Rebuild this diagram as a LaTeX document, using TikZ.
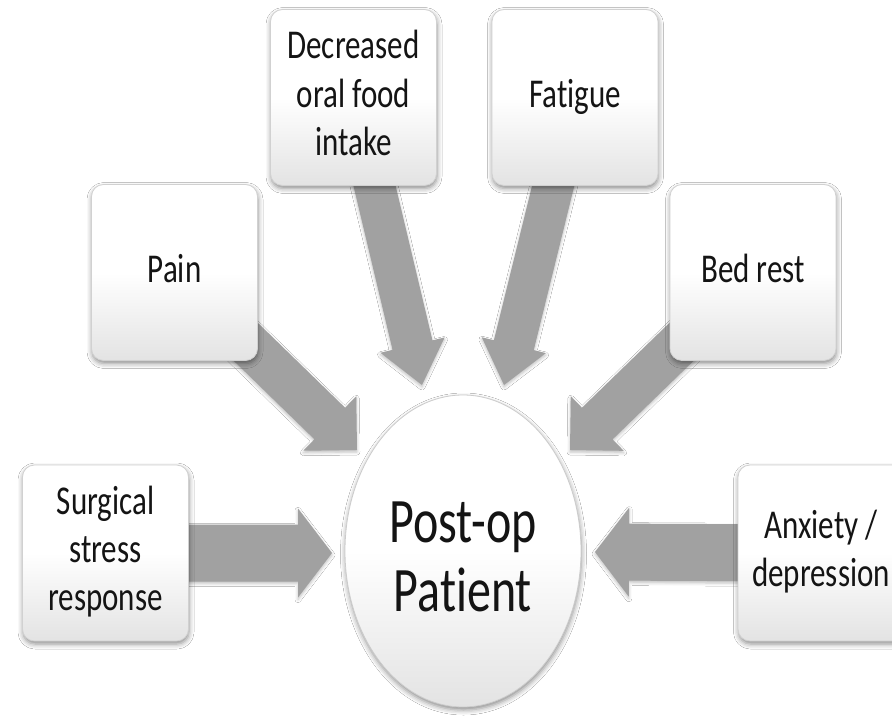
\documentclass[tikz,border=0pt]{standalone}
\usepackage{fontspec}
\setmainfont[Ligatures=NoCommon]{Carlito}
\usetikzlibrary{calc,shadows,shadows.blur,shapes.geometric}
\newcommand\boxfont{\fontsize{31}{36.5}\selectfont}
\newcommand\ptfont{\fontsize{48}{53}\selectfont}
\newcommand\sttext[1]{\scalebox{1}[1.32]{\begin{tabular}{@{}c@{}}#1\end{tabular}}}
\newcommand\blockarr[5]{% #1 start, #2 tip, #3 shaft half, #4 head half, #5 head length
  \coordinate (ahb) at ($(#2)!#5!(#1)$);
  \fill[arrowfill] ($(#1)!#3!90:(#2)$) -- ($(ahb)!#3!90:(#2)$) -- ($(ahb)!#4!90:(#2)$)
    -- (#2) -- ($(ahb)!#4!-90:(#2)$) -- ($(ahb)!#3!-90:(#2)$) -- ($(#1)!#3!-90:(#2)$) -- cycle;
}
\tikzset{
  factor/.style={draw=black!18, line width=0.8pt, rounded corners=12pt,
    minimum width=166pt, minimum height=176pt, inner sep=0pt,
    top color=white, bottom color=black!11, middle color=white,
    blur shadow={shadow xshift=0.5pt, shadow yshift=-3pt, shadow blur radius=5pt, shadow opacity=45},
    font=\boxfont, text=black!92},
  patient/.style={ellipse, draw=black!20, line width=0.8pt,
    minimum width=236pt, minimum height=312pt, inner sep=0pt,
    top color=white, bottom color=black!11, middle color=white,
    blur shadow={shadow xshift=0.5pt, shadow yshift=-3pt, shadow blur radius=5pt, shadow opacity=45}},
  ptext/.style={inner sep=0pt, font=\ptfont, text=black!92},
  arrowfill/.style={fill=black!37,
    blur shadow={shadow xshift=0pt, shadow yshift=-2pt, shadow blur radius=3pt, shadow opacity=25}},
}
\begin{document}
\begin{tikzpicture}[x=1pt,y=-1pt]
\fill[white] (0,0) rectangle (892,717);
\useasboundingbox (0,0) rectangle (892,717);
% box centres
\coordinate (csurg) at (105.5,553);
\coordinate (cpain) at (174.5,272.5);
\coordinate (cdecr) at (353.5,97.5);
\coordinate (cfati) at (575,97.5);
\coordinate (cbedr) at (753,272.5);
\coordinate (canxi) at (821,553);
% arrow tips
\coordinate (tsurg) at (332,553);
\coordinate (tanxi) at (595,552);
\coordinate (tpain) at (357,450);
\coordinate (tbedr) at (570,450);
\coordinate (tdecr) at (422,385);
\coordinate (tfati) at (504,385);
% arrows (behind the boxes)
\blockarr{csurg}{tsurg}{28.5pt}{44.5pt}{34pt}
\blockarr{canxi}{tanxi}{28.5pt}{44.5pt}{34pt}
\blockarr{cpain}{tpain}{22pt}{38pt}{38pt}
\blockarr{cbedr}{tbedr}{22pt}{38pt}{38pt}
\blockarr{cdecr}{tdecr}{20.5pt}{33pt}{41pt}
\blockarr{cfati}{tfati}{20.5pt}{33pt}{41pt}
% factor boxes
\node[factor] (surg) at (csurg) {\sttext{Surgical\\stress\\response}};
\node[factor] (pain) at (cpain) {\sttext{Pain}};
\node[factor] (decr) at (cdecr) {\sttext{Decreased\\oral food\\intake}};
\node[factor] (fati) at (cfati) {\sttext{Fatigue}};
\node[factor] (bedr) at (cbedr) {\sttext{Bed rest}};
\node[factor] (anxi) at (canxi) {\sttext{Anxiety /\\depression}};
% centre
\node[patient] (pt) at (463,551) {};
\node[ptext] (ptl) at (463,563) {\scalebox{1}[1.32]{\begin{tabular}{@{}c@{}}Post-op\\Patient\end{tabular}}};
\end{tikzpicture}
\end{document}
